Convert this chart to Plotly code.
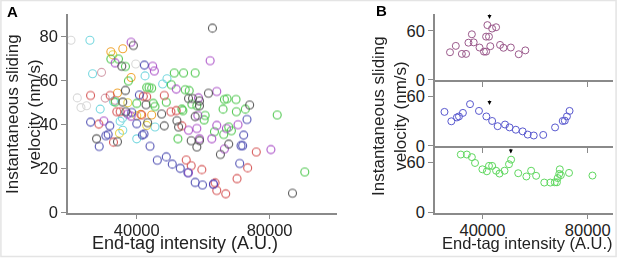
import plotly.graph_objects as go

# ---------------- Panel A data (end-tag intensity, velocity) ----------------
a_dark_x = [62800, 39000, 35500, 36600, 61600, 55600, 56800, 58900, 58900, 74000, 35800, 42800,
            36700, 47500, 43300, 52100, 57600, 27900, 34200, 56400, 58100, 58900, 65200, 67700,
            86900, 52600, 48300]
a_dark_y = [83.8, 75.9, 66.5, 55.5, 54.2, 51.8, 51.8, 50.7, 48.5, 48.9, 50.2, 49.0,
            45.8, 44.8, 40.8, 41.7, 43.6, 33.5, 32.2, 32.6, 29.8, 32.7, 26.4, 31.1,
            8.8, 38.9, 39.4]

a_purple_x = [38300, 62100, 33500, 44800, 45300, 64100, 51900, 58600, 58400, 64100, 67000, 70500,
              80400, 66400, 55600, 58100, 58900, 38300, 37300, 30100, 55600, 63100, 62600]
a_purple_y = [77.4, 69.0, 68.0, 66.5, 64.3, 55.0, 56.1, 52.1, 44.1, 39.6, 38.2, 39.9,
              28.6, 28.9, 37.4, 38.2, 33.5, 43.8, 44.8, 41.6, 18.1, 12.9, 33.5]

a_navy_x = [42300, 26100, 28700, 30700, 31400, 31900, 40000, 41700, 42200, 44000, 46200, 48900,
            50700, 53100, 57600, 59800, 55400, 63100, 71000, 71400, 71900, 72200, 73200, 40800,
            38500]
a_navy_y = [67.0, 41.1, 30.0, 34.9, 35.5, 39.4, 40.4, 35.2, 35.7, 30.1, 23.8, 25.3,
            22.0, 20.1, 13.7, 12.5, 18.1, 12.9, 22.3, 30.4, 30.4, 35.2, 42.3, 53.4,
            45.5]

a_red_x = [26100, 32000, 34000, 35000, 43000, 48300, 50300, 51900, 28600, 54900, 56400, 59600,
           63600, 64100, 66800, 70200, 73400, 76000, 41500, 53600, 42000, 33000]
a_red_y = [53.2, 53.2, 45.8, 45.8, 52.6, 53.2, 45.8, 46.3, 40.2, 23.9, 21.3, 19.5,
           13.5, 10.0, 8.5, 15.4, 20.3, 27.5, 44.3, 39.4, 52.8, 32.0]

a_green_x = [32200, 34500, 36600, 37500, 43000, 43700, 44500, 51300, 54100, 57600, 50400, 54600,
             55800, 33500, 40000, 45000, 45500, 48900, 66400, 67200, 69900, 66000, 70000, 72700,
             53600, 53900, 60300, 67700, 68500, 63400, 66200, 82300, 90600, 52400, 60600, 58100,
             56600]
a_green_y = [69.8, 69.8, 66.4, 59.8, 56.8, 56.8, 56.5, 63.4, 63.4, 63.4, 58.1, 55.8,
             55.4, 50.2, 49.6, 49.6, 48.2, 50.1, 51.4, 51.7, 51.4, 47.0, 45.8, 47.0,
             47.0, 46.3, 42.1, 38.9, 37.2, 36.7, 35.5, 44.3, 18.4, 33.5, 44.1, 48.5,
             49.2]

a_cyan_x = [25900, 26700, 29000, 42500, 49100, 47800, 35700, 35000, 35800, 40000, 45500, 33000]
a_cyan_y = [78.3, 63.1, 47.0, 62.1, 60.8, 58.4, 42.9, 41.5, 37.4, 33.5, 38.9, 50.5]

a_orange_x = [32200, 35800, 38300, 34200, 41200, 44500]
a_orange_y = [73.1, 74.4, 61.4, 54.3, 44.6, 44.3]

a_yellow_x = [32800, 37300, 43000, 40000, 34800]
a_yellow_y = [71.7, 49.9, 39.6, 44.0, 36.0]

a_lgray_x = [20200, 22100, 23200, 24900, 39700]
a_lgray_y = [78.3, 52.1, 47.7, 48.5, 67.5]

a_mauve_x = [29400, 33500, 30500]
a_mauve_y = [63.7, 51.0, 52.0]

# ---------------- Panel B data (three single-molecule traces) ----------------
b1_x = [27700, 29900, 32200, 33800, 34700, 36000, 36700, 38900, 40600, 41400, 41400, 42500,
        41900, 43000, 43700, 45200, 46700, 48000, 50800, 53800, 56300]
b1_y = [33.8, 41.6, 31.8, 31.8, 45.5, 55.8, 45.9, 39.6, 34.6, 34.6, 52.9, 52.9,
        67.0, 41.2, 62.8, 64.4, 42.8, 39.3, 39.6, 31.4, 36.1]

b2_x = [25600, 28200, 30300, 31100, 32600, 35300, 38700, 41500, 43700, 45800, 48600, 50300,
        52700, 55300, 57200, 59500, 63100, 67600, 70500, 71300, 72100, 73100]
b2_y = [41.2, 29.8, 34.5, 35.7, 40.0, 50.6, 42.4, 35.7, 30.2, 23.9, 25.9, 22.4,
        19.6, 17.6, 13.7, 12.6, 13.3, 22.4, 30.2, 30.6, 35.7, 42.4]

b3_x = [31800, 34100, 36000, 37200, 40000, 41700, 42500, 43700, 45200, 46500, 48400, 50100,
        50900, 53600, 56700, 58500, 60400, 63500, 65800, 67500, 68300, 68600, 69200, 69400,
        69800, 72900, 81800]
b3_y = [69.6, 69.6, 66.5, 59.5, 51.9, 49.5, 56.0, 56.0, 50.2, 46.8, 50.2, 58.0,
        63.5, 47.2, 43.3, 50.2, 44.1, 36.0, 36.0, 36.3, 36.3, 41.4, 46.4, 51.9,
        44.9, 47.6, 44.4]

arrow_x = [42700, 42700, 50800]
arrow_y = [74.5, 49.5, 71.0]

x_ticks = [40000, 80000]
a_y_ticks = [0, 20, 40, 60, 80]
b_y_ticks = [0, 60]

W, H = 617, 266
FONT = "Liberation Sans, Arial, sans-serif"
AXC = "#8a8a8a"

fig = go.Figure()

a_series = [
    (a_lgray_x, a_lgray_y, "#d6d6d6"),
    (a_cyan_x, a_cyan_y, "#6fd6de"),
    (a_yellow_x, a_yellow_y, "#e6d445"),
    (a_orange_x, a_orange_y, "#f0a024"),
    (a_mauve_x, a_mauve_y, "#d29aa8"),
    (a_green_x, a_green_y, "#3fc23f"),
    (a_red_x, a_red_y, "#d24848"),
    (a_purple_x, a_purple_y, "#a545c4"),
    (a_navy_x, a_navy_y, "#4343ad"),
    (a_dark_x, a_dark_y, "#474747"),
]
for xs, ys, c in a_series:
    fig.add_trace(go.Scatter(x=xs, y=ys, mode="markers", xaxis="x", yaxis="y",
                             marker=dict(symbol="circle-open", size=8, color=c,
                                         line=dict(width=1.1, color=c)),
                             opacity=0.9, showlegend=False))

b_series = [
    (b1_x, b1_y, "#9b5a8c", "x2", "y2"),
    (b2_x, b2_y, "#5959cf", "x3", "y3"),
    (b3_x, b3_y, "#5fd85f", "x4", "y4"),
]
for xs, ys, c, xa, ya in b_series:
    fig.add_trace(go.Scatter(x=xs, y=ys, mode="markers", xaxis=xa, yaxis=ya,
                             marker=dict(symbol="circle-open", size=7, color=c,
                                         line=dict(width=1, color=c)),
                             showlegend=False))


def px(x):
    return x / W


def py(y):
    return (H - y) / H


tickfont = dict(family=FONT, size=16.5, color="#222222")
common_axis = dict(showline=True, linecolor=AXC, linewidth=1.5, showgrid=False, zeroline=False,
                   ticks="outside", ticklen=5, tickcolor=AXC, tickwidth=1, tickfont=tickfont)

layout = dict(
    width=W, height=H, autosize=False, margin=dict(l=0, r=0, t=0, b=0, pad=0),
    paper_bgcolor="white", plot_bgcolor="white",
    font=dict(family=FONT, size=17, color="#222222"),
    xaxis=dict(domain=[px(68), px(337)], range=[19300, 100300], anchor="y",
               tickvals=x_ticks, ticktext=[f"{v}" for v in x_ticks], ticklabelstandoff=-3,
               **common_axis),
    yaxis=dict(domain=[py(220), py(15)], range=[0, 90], anchor="x",
               tickvals=a_y_ticks, **common_axis),
)
b_dom = [(py(82.7), py(15)), (py(151), py(82.7)), (py(220), py(151))]
for i, (lo, hi) in enumerate(b_dom):
    n = i + 2
    last = (i == 2)
    layout[f"xaxis{n}"] = dict(domain=[px(435), px(613)], range=[22000, 89600], anchor=f"y{n}",
                               tickvals=x_ticks, showticklabels=last, ticklabelstandoff=-3,
                               ticktext=[f"{v}" for v in x_ticks], **common_axis)
    layout[f"yaxis{n}"] = dict(domain=[lo, hi], range=[0, 80], anchor=f"x{n}",
                               tickvals=b_y_ticks, **common_axis)
fig.update_layout(**layout)

ann = []
titlefont = dict(family=FONT, size=17, color="#222222")
C = dict(xanchor="center", yanchor="middle", xref="paper", yref="paper", showarrow=False)
# Panel A titles
ann.append(dict(text="Instantaneous sliding<br>velocity (nm/s)", textangle=-90,
                x=px(23), y=py(118), font=titlefont, align="center", **C))
ann.append(dict(text="End-tag intensity (A.U.)", x=px(185), y=py(251),
                font=dict(family=FONT, size=18, color="#222222"), **C))
# Panel B titles
ann.append(dict(text="Instantaneous sliding<br>velocity (nm/s)", textangle=-90,
                x=px(390), y=py(120), font=titlefont, align="center", **C))
ann.append(dict(text="End-tag intensity (A.U.)", x=px(527), y=py(251),
                font=dict(family=FONT, size=16.5, color="#222222"), **C))
# Panel letters
ann.append(dict(text="<b>A</b>", x=px(12.5), y=py(12), font=dict(family=FONT, size=15, color="#000"), **C))
ann.append(dict(text="<b>B</b>", x=px(381), y=py(11), font=dict(family=FONT, size=15, color="#000"), **C))
# Arrows
for (ax_, ay_, xa, ya) in zip(arrow_x, arrow_y, ["x2", "x3", "x4"], ["y2", "y3", "y4"]):
    ann.append(dict(x=ax_, y=ay_, xref=xa, yref=ya, text="", showarrow=True,
                    arrowhead=2, arrowsize=0.8, arrowwidth=1, arrowcolor="#000",
                    ax=0, ay=-6, standoff=0))
fig.update_layout(annotations=ann)

# faint frame around the figure
fig.add_shape(type="rect", xref="paper", yref="paper", x0=0.0015, y0=0.002, x1=0.9985, y1=0.998,
              line=dict(color="#e4e4e4", width=1.5))

fig.write_html("out.html", config={"responsive": False, "displayModeBar": False},
               post_script="document.body.style.margin='0';document.documentElement.style.overflow='hidden';document.body.style.overflow='hidden';")
